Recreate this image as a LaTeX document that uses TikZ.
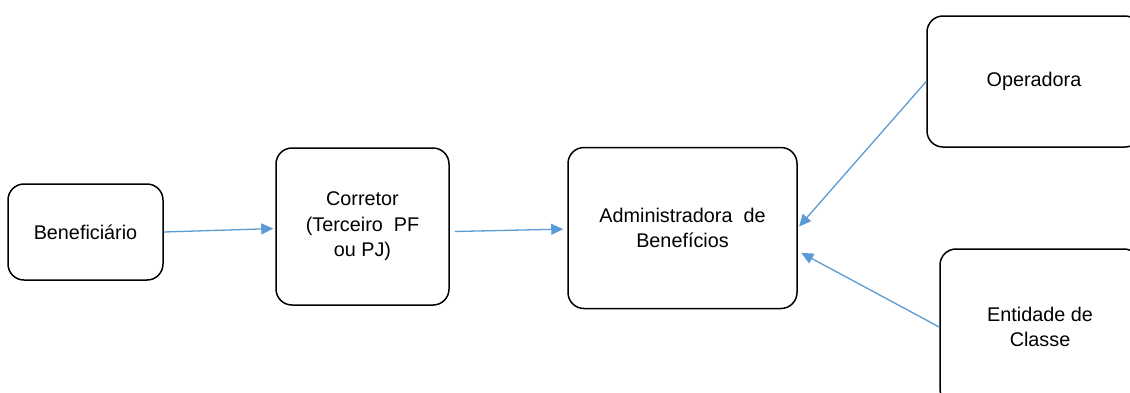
\documentclass[tikz,border=0pt]{standalone}
\usepackage{fontspec}
\setmainfont{Liberation Sans}
\usetikzlibrary{arrows.meta}
\definecolor{seta}{HTML}{5B9BD5}
\tikzset{
  caixa/.style={draw=black, line width=1.5pt, rounded corners=16pt, align=center,
    inner sep=0pt, font=\fontsize{19.8}{25.5}\selectfont},
  fluxo/.style={draw=seta, line width=1.3pt, -{Triangle[length=12pt,width=11pt]}}
}
\begin{document}
\begin{tikzpicture}[x=1pt,y=-1pt]
\clip (0,0) rectangle (1130,392);
\fill[white] (0,0) rectangle (1130,392);

\node[caixa, minimum width=155pt, minimum height=96pt] (benef) at (85.5,232) {Benefici\'ario};
\node[caixa, minimum width=173pt, minimum height=157pt] (corretor) at (362.5,226.5) {Corretor\\(Terceiro\ \ PF\\ou PJ)};
\node[caixa, minimum width=229pt, minimum height=161pt] (admin) at (682.5,228) {Administradora\ \ de\\Benef\'icios};
\node[caixa, minimum width=214pt, minimum height=131pt] (operadora) at (1034,81.5) {\raisebox{-3pt}{Operadora}};
\node[caixa, minimum width=200pt, minimum height=156pt] (entidade) at (1040,327) {Entidade de\\Classe};

\draw[fluxo, shorten >=2pt] (benef.east) -- ([yshift=-2pt]corretor.west);
\draw[fluxo, shorten >=4pt] ([xshift=5pt,yshift=-5pt]corretor.east) -- ([yshift=-1pt]admin.west);
\draw[fluxo, shorten >=2pt] (operadora.west) -- (admin.east);
\draw[fluxo, shorten >=4pt] (entidade.west) -- ([yshift=-23pt]admin.east);
\end{tikzpicture}
\end{document}
